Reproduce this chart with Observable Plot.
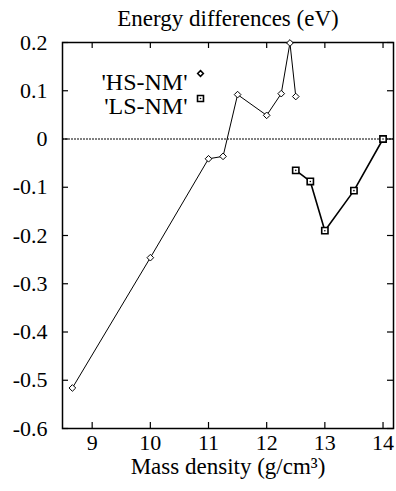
<!DOCTYPE html>
<html>
<head>
<meta charset="utf-8">
<script src="https://cdn.jsdelivr.net/npm/d3@7"></script>
<script src="https://cdn.jsdelivr.net/npm/@observablehq/plot@0.6"></script>
<style>
  html, body { margin: 0; padding: 0; background: #fff; }
</style>
</head>
<body>
<div id="chart"></div>
<script>
const title = "Energy differences (eV)";
const xLabel = "Mass density (g/cm³)";
const hsLabel = "'HS-NM'";
const lsLabel = "'LS-NM'";

const hsDensity = [8.66, 10.0, 11.0, 11.25, 11.5, 12.0, 12.25, 12.4, 12.5];
const hsEnergy  = [-0.516, -0.246, -0.041, -0.036, 0.092, 0.049, 0.094, 0.199, 0.088];

const lsDensity = [12.5, 12.75, 13.0, 13.5, 14.0];
const lsEnergy  = [-0.065, -0.088, -0.19, -0.107, 0.0];

const xTicks = [9, 10, 11, 12, 13, 14];
const yTicks = [0.2, 0.1, 0, -0.1, -0.2, -0.3, -0.4, -0.5, -0.6];
const yTickLabels = ["0.2", "0.1", "0", "-0.1", "-0.2", "-0.3", "-0.4", "-0.5", "-0.6"];

const hs = hsDensity.map((x, i) => ({x, y: hsEnergy[i]}));
const ls = lsDensity.map((x, i) => ({x, y: lsEnergy[i]}));
const yFmt = d => yTickLabels[yTicks.findIndex(t => Math.abs(t - d) < 1e-9)];

const ff = "Liberation Serif";
const fsTick = 22, fsTitle = 23, fsLegend = 24;
const W = 396, H = 491, mL = 62, mR = 3, mT = 42, mB = 63;
const tick = 6;

const chart = Plot.plot({
  width: W, height: H,
  marginLeft: mL, marginRight: mR, marginTop: mT, marginBottom: mB,
  style: "font-family: 'Liberation Serif', serif; font-size: 22px; color: #000; background: #fff; overflow: visible;",
  x: {domain: [8.49, 14.18]},
  y: {domain: [-0.6, 0.2]},
  marks: [
    Plot.ruleY([0], {stroke: "#000", strokeWidth: 1, strokeDasharray: "2,1"}),
    Plot.frame({stroke: "#000", strokeWidth: 1.5}),
    Plot.axisX({ticks: xTicks, tickSize: 0, tickPadding: 6, tickFormat: d => String(d), fontSize: fsTick, fontFamily: ff, label: null}),
    Plot.axisY({ticks: yTicks, tickSize: 0, tickPadding: 15, tickFormat: yFmt, fontSize: fsTick, fontFamily: ff, label: null}),
    Plot.tickX(xTicks, {x: d => d, insetTop: H - mT - mB - tick, stroke: "#000", strokeWidth: 1.2}),
    Plot.tickX(xTicks, {x: d => d, insetBottom: H - mT - mB - tick, stroke: "#000", strokeWidth: 1.2}),
    Plot.tickY(yTicks, {y: d => d, insetRight: W - mL - mR - tick, stroke: "#000", strokeWidth: 1.2}),
    Plot.tickY(yTicks, {y: d => d, insetLeft: W - mL - mR - tick, stroke: "#000", strokeWidth: 1.2}),
    Plot.line(hs, {x: "x", y: "y", stroke: "#000", strokeWidth: 1}),
    Plot.line(ls, {x: "x", y: "y", stroke: "#000", strokeWidth: 1.6}),
    Plot.dot(hs, {x: "x", y: "y", symbol: "diamond2", r: 3, stroke: "#000", fill: "#fff", strokeWidth: 1}),
    Plot.dot(ls, {x: "x", y: "y", symbol: "square2", r: 4, stroke: "#000", fill: "#fff", strokeWidth: 1.6}),
    Plot.dot(ls, {x: "x", y: "y", r: 0.8, fill: "#000"}),
    Plot.text([title], {frameAnchor: "top", text: d => d, dy: -33, fontSize: fsTitle, fontFamily: ff, fill: "#000"}),
    Plot.text([xLabel], {frameAnchor: "bottom", text: d => d, dy: 45, fontSize: fsTitle, fontFamily: ff, fill: "#000"}),
    Plot.text([hsLabel], {frameAnchor: "top-left", text: d => d, dx: 125, dy: 30, textAnchor: "end", fontSize: fsLegend, fontFamily: ff, fill: "#000"}),
    Plot.text([lsLabel], {frameAnchor: "top-left", text: d => d, dx: 125, dy: 54, textAnchor: "end", fontSize: fsLegend, fontFamily: ff, fill: "#000"}),
    Plot.dot([hsLabel], {frameAnchor: "top-left", dx: 138, dy: 31, symbol: "diamond2", r: 2.6, stroke: "#000", fill: "#fff"}),
    Plot.dot([lsLabel], {frameAnchor: "top-left", dx: 138, dy: 56, symbol: "square2", r: 3.8, stroke: "#000", fill: "#fff", strokeWidth: 1.6}),
    Plot.dot([lsLabel], {frameAnchor: "top-left", dx: 138, dy: 56, r: 0.8, fill: "#000"})
  ]
});
document.getElementById("chart").appendChild(chart);
</script>
</body>
</html>
